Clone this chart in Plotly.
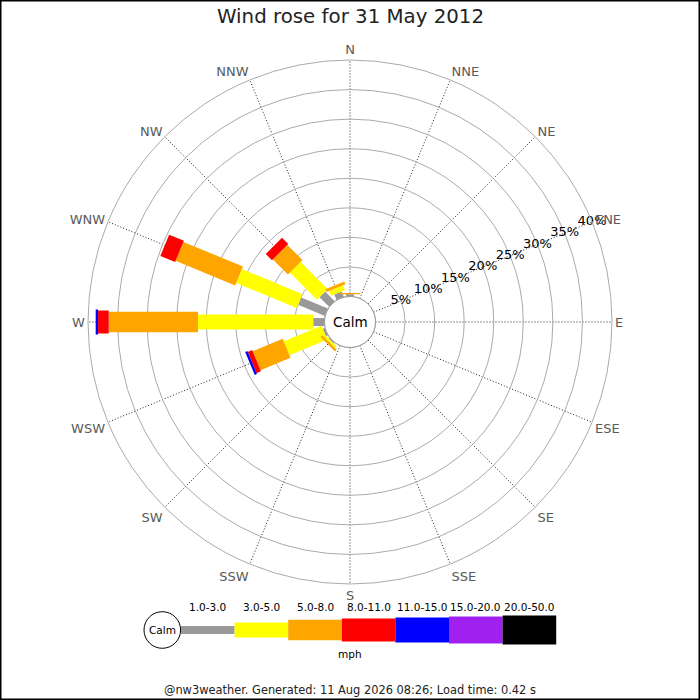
import plotly.graph_objects as go

# --- data (percent of observations per direction and speed bin) ---
directions = ["N", "NNE", "NE", "ENE", "E", "ESE", "SE", "SSE",
              "S", "SSW", "SW", "WSW", "W", "WNW", "NW", "NNW"]
dir_angles = [i * 22.5 for i in range(16)]

speed_bins = ["1.0-3.0", "3.0-5.0", "5.0-8.0", "8.0-11.0",
              "11.0-15.0", "15.0-20.0", "20.0-50.0"]

#          N    NNE  NE   ENE  E    ESE  SE   SSE  S    SSW  SW   WSW  W     WNW   NW   NNW
pct_1_3 = [0.4, 0,   0,   0,   0,   0,   0,   0,   0,   0,   0.2, 0.4, 1.9,  4.9,  2.3, 1.0]
pct_3_5 = [0,   0,   0,   0,   0,   0,   0,   0,   0,   0,   0.4, 6.9, 19.5, 11.1, 6.5, 0.9]
pct_5_8 = [0.2, 0,   0,   0,   0,   0,   0,   0,   0,   0,   0.4, 5.5, 15.1, 10.9, 3.6, 0.5]
pct_8_11 = [0,  0,   0,   0,   0,   0,   0,   0,   0,   0,   0,   0.8, 1.8,  2.7,  1.5, 0]
pct_11_15 = [0, 0,   0,   0,   0,   0,   0,   0,   0,   0,   0,   0.4, 0.4,  0,    0,   0]
pct_15_20 = [0] * 16
pct_20_50 = [0] * 16

radial_ticks = [5, 10, 15, 20, 25, 30, 35, 40]
radial_labels = [f"{v}%" for v in radial_ticks]
radial_label_dir = 67.5   # labels run along the ENE spoke

title = "Wind rose for 31 May 2012"
footer = "@nw3weather. Generated: 11 Aug 2026 08:26; Load time: 0.42 s"

# --- styling ---
bin_colors = ["#999999", "#ffff00", "#ffa500", "#ff0000", "#0000ff", "#a020f0", "#000000"]
bin_px = [8, 15, 20.5, 23, 25, 27, 29]   # bar thickness in pixels
FONT = "DejaVu Sans"
W = H = 700
CX, CY, R = 350, 322, 262       # polar centre / radius in pixels
HOLE_PX = 25.5


def fx(x):
    return x / W


def fy(y):
    return 1 - y / H


def text_ann(x, y, text, size, color="black"):
    return dict(x=fx(x), y=fy(y), xref="paper", yref="paper", text=text,
                showarrow=False, xanchor="center", yanchor="middle",
                font=dict(size=size, color=color, family=FONT))


series = [pct_1_3, pct_3_5, pct_5_8, pct_8_11, pct_11_15, pct_15_20, pct_20_50]

fig = go.Figure()
cum = [0.0] * len(directions)
for values, color, width in zip(series, bin_colors, bin_px):
    r, theta = [], []
    for d, v in enumerate(values):
        if v > 0:
            r += [cum[d], cum[d] + v, None]
            theta += [dir_angles[d], dir_angles[d], None]
            cum[d] += v
    if r:
        fig.add_trace(go.Scatterpolar(
            r=r, theta=theta, mode="lines",
            line=dict(color=color, width=width),
            connectgaps=False, hoverinfo="skip", showlegend=False,
        ))

# percentage labels sitting on the rings
fig.add_trace(go.Scatterpolar(
    r=radial_ticks, theta=[radial_label_dir] * len(radial_ticks),
    mode="text", text=radial_labels, textposition="middle center",
    textfont=dict(size=13, color="black", family=FONT),
    cliponaxis=False, hoverinfo="skip", showlegend=False,
))

fig.update_layout(
    width=W, height=H,
    margin=dict(l=0, r=0, t=0, b=0),
    paper_bgcolor="white",
    font=dict(family=FONT, color="#222"),
    polar=dict(
        domain=dict(x=[fx(CX - R), fx(CX + R)], y=[fy(CY + R), fy(CY - R)]),
        bgcolor="white",
        hole=HOLE_PX / R,
        angularaxis=dict(
            direction="clockwise", rotation=90,
            tickmode="array", tickvals=dir_angles, ticktext=directions,
            showgrid=True, gridcolor="#222", griddash="1px,2px", gridwidth=1,
            showline=True, linecolor="#aaa", linewidth=1,
            ticks="",
            tickfont=dict(size=13, color="#5a5a5a", family=FONT),
        ),
        radialaxis=dict(
            range=[0, 40], tickmode="array", tickvals=radial_ticks,
            showticklabels=False, angle=22.5,
            showline=False, ticks="",
            gridcolor="#aaa", gridwidth=1,
        ),
    ),
)

shapes = []
annotations = []

# calm circle in the middle
shapes.append(dict(type="circle", xref="paper", yref="paper", layer="above",
                   x0=fx(CX - HOLE_PX), x1=fx(CX + HOLE_PX),
                   y0=fy(CY + HOLE_PX), y1=fy(CY - HOLE_PX),
                   line=dict(color="#999", width=1), fillcolor="white"))
annotations.append(text_ann(CX, CY, "Calm", 13.5))

# speed legend below the rose
leg_x0, leg_step, leg_y = 181, 53.6, 630
shapes.append(dict(type="circle", xref="paper", yref="paper",
                   x0=fx(162.3 - 18.3), x1=fx(162.3 + 18.3),
                   y0=fy(leg_y + 18.3), y1=fy(leg_y - 18.3),
                   line=dict(color="black", width=1), fillcolor="white"))
annotations.append(text_ann(162.3, leg_y, "Calm", 10.5))
for i, (label, color, h) in enumerate(zip(speed_bins, bin_colors, bin_px)):
    x0 = leg_x0 + i * leg_step
    shapes.append(dict(type="rect", xref="paper", yref="paper",
                       x0=fx(x0), x1=fx(x0 + leg_step),
                       y0=fy(leg_y + h / 2), y1=fy(leg_y - h / 2),
                       line=dict(width=0), fillcolor=color))
    annotations.append(text_ann(x0 + leg_step / 2, 606.5, label, 10.5))
annotations.append(text_ann(350, 654, "mph", 10.5))

# title and footer
annotations.append(text_ann(350, 17, title, 19.8, "#222"))
annotations.append(text_ann(350, 690, footer, 11.4, "#222"))

# frame
shapes.append(dict(type="rect", xref="paper", yref="paper",
                   x0=0, x1=1, y0=0, y1=1, line=dict(color="black", width=3)))

fig.update_layout(shapes=shapes, annotations=annotations)
fig.write_html("out.html", config={"displayModeBar": False},
               post_script="document.body.style.margin='0';")
